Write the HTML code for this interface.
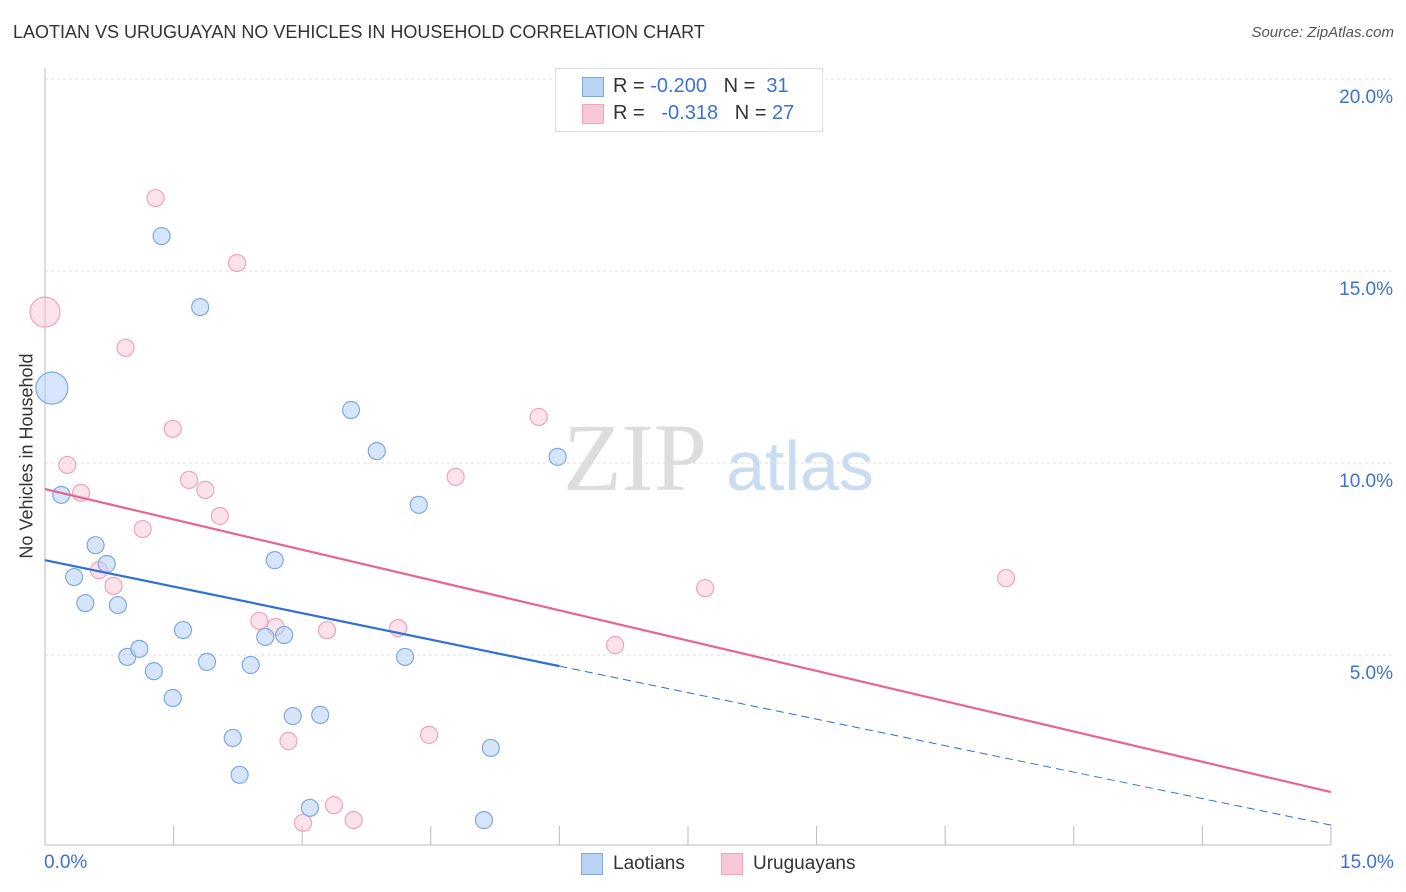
<!DOCTYPE html>
<html><head><meta charset="utf-8">
<style>
body{margin:0;background:#fff;font-family:"Liberation Sans",sans-serif;}
#wrap{position:relative;width:1406px;height:892px;overflow:hidden;}
.t{position:absolute;white-space:nowrap;}
</style></head><body>
<div id="wrap">
<div class="t" style="left:13px;top:22px;font-size:18px;color:#333;">LAOTIAN VS URUGUAYAN NO VEHICLES IN HOUSEHOLD CORRELATION CHART</div>
<div class="t" style="right:12px;top:24px;font-size:15px;color:#555;font-style:italic;">Source: ZipAtlas.com</div>
<svg id="svg" width="1406" height="892" style="position:absolute;left:0;top:0"></svg>
</div>
<script>
const laoX=[0.08,0.19,0.34,0.47,0.59,0.72,0.85,0.96,1.10,1.27,1.36,1.49,1.61,1.81,1.89,2.19,2.27,2.40,2.57,2.68,2.79,2.89,3.09,3.21,3.57,3.87,4.20,4.36,5.12,5.20,5.98];
const laoY=[11.95,9.17,7.03,6.35,7.86,7.37,6.30,4.95,5.16,4.58,15.91,3.88,5.65,14.06,4.82,2.84,1.88,4.74,5.47,7.47,5.52,3.41,1.02,3.44,11.38,10.31,4.95,8.91,0.70,2.58,10.16];
const uruX=[0,0.26,0.42,0.63,0.80,0.94,1.14,1.29,1.49,1.68,1.87,2.04,2.24,2.50,2.69,2.84,3.01,3.29,3.37,3.60,4.12,4.48,4.79,5.76,6.65,7.70,11.21];
const uruY=[13.93,9.95,9.22,7.21,6.80,13.0,8.28,16.9,10.89,9.56,9.30,8.62,15.21,5.89,5.73,2.76,0.63,5.65,1.09,0.70,5.70,2.92,9.64,11.2,5.26,6.74,7.0];
const laoTrend=[7.47,0.57];
const uruTrend=[9.32,1.43];
const yTicks=[5,10,15,20];
const yTickLabels=["5.0%","10.0%","15.0%","20.0%"];
const xs=v=>45+v*85.73, ys=v=>847-v*38.4;
const svg=document.getElementById('svg');
function el(n,a,p){const e=document.createElementNS('http://www.w3.org/2000/svg',n);for(const k in a)e.setAttribute(k,a[k]);(p||svg).appendChild(e);return e;}
let w=el('text',{x:635,y:490,'font-size':96,'font-family':'Liberation Serif',fill:'#ddd','text-anchor':'middle'});w.textContent='ZIP';


let w2=el('text',{x:800,y:490,'font-size':70,'font-family':'Liberation Sans',fill:'#c9dcf2','text-anchor':'middle'});w2.textContent='atlas';


yTicks.forEach((v,i)=>{
 const g=el('line',{x1:45,x2:1395,y1:ys(v),y2:ys(v),stroke:'#ddd','stroke-dasharray':'3,3'});
 
 
 const t=el('text',{x:1393,y:ys(v)+24,'font-size':19,fill:'#3b72d4','text-anchor':'end'});t.textContent=yTickLabels[i];
 
 
});
let ax=el('line',{x1:45,x2:45,y1:68,y2:845,stroke:'#bbb'});


let bx=el('line',{x1:45,x2:1331,y1:845,y2:845,stroke:'#bbb'});


for(let i=0;i<=10;i++){const tk=el('line',{x1:xs(i*1.5),x2:xs(i*1.5),y1:826,y2:845,stroke:'#bbb'});
 
 }
function pts(X,Y,fill,stroke,name){X.forEach((x,i)=>{const r=i===0?(name==='laotian-point'?16:15):8.5;
 const c=el('circle',{cx:xs(x),cy:ys(Y[i]),r:r,fill:fill,stroke:stroke,'stroke-width':1.2});
 
 });}
pts(uruX,uruY,'rgba(248,190,208,0.45)','#f0a3bb','uruguayan-point');
pts(laoX,laoY,'rgba(180,208,244,0.55)','#7ea9e0','laotian-point');
const xb=6.0;
let l1=el('line',{x1:xs(0),y1:ys(laoTrend[0]),x2:xs(xb),y2:ys(laoTrend[0]+(laoTrend[1]-laoTrend[0])*xb/15),stroke:'#2f6fd6','stroke-width':2.2});


let l2=el('line',{x1:xs(xb),y1:ys(laoTrend[0]+(laoTrend[1]-laoTrend[0])*xb/15),x2:xs(15),y2:ys(laoTrend[1]),stroke:'#2f6fd6','stroke-width':1,'stroke-dasharray':'8,5'});


let l3=el('line',{x1:xs(0),y1:ys(uruTrend[0]),x2:xs(15),y2:ys(uruTrend[1]),stroke:'#e8648f','stroke-width':2.2});


</script>
<div class="t" style="left:44px;top:852px;font-size:19px;color:#3b72d4;">0.0%</div>
<div class="t" style="left:1340px;top:852px;font-size:19px;color:#3b72d4;">15.0%</div>
<div class="t" style="left:27px;top:456px;font-size:18px;color:#333;transform:translate(-50%,-50%) rotate(-90deg);">No Vehicles in Household</div>
<div style="position:absolute;left:555px;top:68px;width:266px;height:62px;border:1px solid #ddd;background:#fff;font-size:20px;">
 <div style="position:absolute;left:26px;top:8px;width:20px;height:18px;background:#b9d3f4;border:1px solid #7ea9e0"></div>
 <div class="t" style="left:57px;top:6px;color:#333">R = <span style="color:#3b72d4">-0.200</span>&nbsp;&nbsp;&nbsp;N = <span style="color:#3b72d4">&nbsp;31</span></div>
 <div style="position:absolute;left:26px;top:35px;width:20px;height:18px;background:#f9c8d7;border:1px solid #f0a3bb"></div>
 <div class="t" style="left:57px;top:33px;color:#333">R = &nbsp;&nbsp;<span style="color:#3b72d4">-0.318</span>&nbsp;&nbsp;&nbsp;N = <span style="color:#3b72d4">27</span></div>
</div>
<div style="position:absolute;left:581px;top:853px;">
 <div style="position:absolute;left:0;top:0;width:20px;height:20px;background:#b9d3f4;border:1px solid #7ea9e0"></div>
 <div class="t" style="left:32px;top:0;font-size:19px;color:#333">Laotians</div></div>
<div style="position:absolute;left:721px;top:853px;">
 <div style="position:absolute;left:0;top:0;width:20px;height:20px;background:#f9c8d7;border:1px solid #f0a3bb"></div>
 <div class="t" style="left:32px;top:0;font-size:19px;color:#333">Uruguayans</div></div>
</body></html>
